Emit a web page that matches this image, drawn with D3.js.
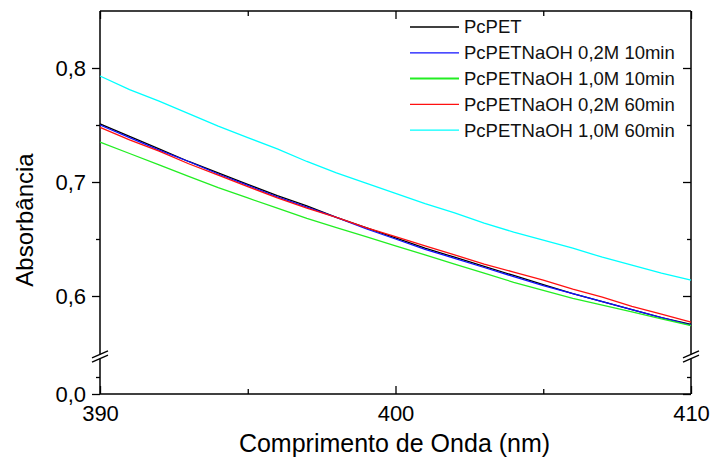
<!DOCTYPE html>
<html>
<head>
<meta charset="utf-8">
<script src="https://cdn.jsdelivr.net/npm/d3@7.9.0/dist/d3.min.js"></script>
<style>
  body { margin: 0; background: #fff; }
  svg { display: block; }
  svg text { font-family: "Liberation Sans", Arial, Helvetica, sans-serif; }
</style>
</head>
<body>
<svg width="712" height="463"></svg>
<script>
// wavelengths (nm)
const wavelength = d3.range(390, 411);

// absorbance, one value per nm
const pcPET       = [0.751, 0.740, 0.729, 0.718, 0.708, 0.698, 0.688, 0.679, 0.669, 0.660, 0.651, 0.642, 0.634, 0.626, 0.618, 0.610, 0.602, 0.595, 0.588, 0.581, 0.575];
const naoh02_10   = [0.750, 0.739, 0.728, 0.718, 0.707, 0.697, 0.687, 0.678, 0.669, 0.659, 0.650, 0.641, 0.633, 0.625, 0.617, 0.609, 0.602, 0.595, 0.588, 0.581, 0.5745];
const naoh10_10   = [0.735, 0.725, 0.715, 0.705, 0.695, 0.686, 0.677, 0.668, 0.660, 0.652, 0.644, 0.636, 0.628, 0.620, 0.612, 0.605, 0.598, 0.592, 0.586, 0.580, 0.574];
const naoh02_60   = [0.748, 0.737, 0.727, 0.716, 0.706, 0.696, 0.686, 0.677, 0.669, 0.660, 0.652, 0.644, 0.636, 0.628, 0.621, 0.614, 0.606, 0.599, 0.591, 0.584, 0.577];
const naoh10_60   = [0.793, 0.781, 0.771, 0.760, 0.749, 0.739, 0.729, 0.718, 0.708, 0.699, 0.690, 0.681, 0.673, 0.664, 0.656, 0.649, 0.642, 0.634, 0.627, 0.620, 0.614];

const seriesNames  = ["PcPET", "PcPETNaOH 0,2M 10min", "PcPETNaOH 1,0M 10min", "PcPETNaOH 0,2M 60min", "PcPETNaOH 1,0M 60min"];
const seriesValues = [pcPET, naoh02_10, naoh10_10, naoh02_60, naoh10_60];
const seriesColors = ["#000000", "#1010ff", "#22ee22", "#ff1010", "#00ffff"];

const yMajor = [0, 0.6, 0.7, 0.8];
const yMinor = [0.05, 0.65, 0.75];
const xMajor = [390, 400, 410];
const xMinor = [395, 405];

const svg = d3.select("svg");
const pLeft = 100, pRight = 691, pTop = 11, pBottom = 394;

const x = d3.scaleLinear().domain([390, 410]).range([pLeft, pRight]);
// broken axis: 0..0.1 at the bottom, 0.55..0.85 above the break
const y = d3.scaleLinear().domain([0, 0.1, 0.55, 0.85]).range([pBottom, 360, 353, pTop]);

const fmt = d3.formatLocale({ decimal: ",", thousands: ".", grouping: [3], currency: ["", ""] }).format(".1f");

// left axis
const gl = svg.append("g").attr("transform", `translate(${pLeft},0)`);
gl.call(d3.axisLeft(y).tickValues(yMajor).tickSize(8).tickPadding(6).tickFormat(fmt));
gl.append("g").call(d3.axisLeft(y).tickValues(yMinor).tickSize(4).tickFormat(""));
// right axis (ticks inward)
const gr = svg.append("g").attr("transform", `translate(${pRight},0)`);
gr.call(d3.axisLeft(y).tickValues(yMajor).tickSize(8).tickFormat(""));
gr.append("g").call(d3.axisLeft(y).tickValues(yMinor).tickSize(4).tickFormat(""));
// bottom axis (ticks inward)
const gb = svg.append("g").attr("transform", `translate(0,${pBottom})`);
gb.call(d3.axisBottom(x).tickValues(xMajor).tickSize(-8).tickPadding(11).tickFormat(d3.format("d")));
gb.append("g").call(d3.axisBottom(x).tickValues(xMinor).tickSize(-5).tickFormat(""));
// top axis (ticks inward)
const gt = svg.append("g").attr("transform", `translate(0,${pTop})`);
gt.call(d3.axisBottom(x).tickValues(xMajor).tickSize(8).tickFormat(""));
gt.append("g").call(d3.axisBottom(x).tickValues(xMinor).tickSize(5).tickFormat(""));

svg.selectAll(".domain").remove();
svg.selectAll("g").attr("font-family", null);
svg.selectAll(".tick line").attr("stroke", "#000").attr("stroke-width", 1.3);
svg.selectAll(".tick text").attr("font-size", 22).attr("fill", "#000");

// frame
const frame = svg.append("g").attr("stroke", "#000").attr("stroke-width", 1.5).attr("fill", "none");
frame.append("line").attr("x1", pLeft).attr("x2", pRight).attr("y1", pTop).attr("y2", pTop);
frame.append("line").attr("x1", pLeft).attr("x2", pRight).attr("y1", pBottom).attr("y2", pBottom);
frame.append("line").attr("x1", pLeft).attr("x2", pLeft).attr("y1", pTop).attr("y2", pBottom);
frame.append("line").attr("x1", pRight).attr("x2", pRight).attr("y1", pTop).attr("y2", pBottom);

// series
const line = d3.line().x((d, i) => x(wavelength[i])).y(d => y(d));
seriesValues.forEach((vals, k) => {
  svg.append("path").datum(vals)
    .attr("d", line)
    .attr("fill", "none")
    .attr("stroke", seriesColors[k])
    .attr("stroke-width", 1.3);
});

// axis break marks
const yb = (y(0.1) + y(0.55)) / 2;
[pLeft, pRight].forEach(xb => {
  svg.append("rect").attr("x", xb - 3).attr("y", yb - 2).attr("width", 6).attr("height", 4).attr("fill", "#fff");
  [-2.2, 2.2].forEach(off => {
    svg.append("line")
      .attr("x1", xb - 8).attr("y1", yb + off + 3.5)
      .attr("x2", xb + 8).attr("y2", yb + off - 3.5)
      .attr("stroke", "#000").attr("stroke-width", 1.3);
  });
});

// legend
const legend = svg.append("g");
seriesNames.forEach((name, k) => {
  const ly = 27 + k * 25.8;
  legend.append("line").attr("x1", 410).attr("x2", 459).attr("y1", ly).attr("y2", ly)
    .attr("stroke", seriesColors[k]).attr("stroke-width", k === 2 ? 2 : 1.3);
  legend.append("text").attr("x", 464).attr("y", ly).attr("dy", "0.35em")
    .attr("font-size", 18.5).attr("fill", "#111").text(name);
});

// axis titles
svg.append("text").attr("x", (pLeft + pRight) / 2 - 1).attr("y", 452)
  .attr("text-anchor", "middle").attr("font-size", 25).text("Comprimento de Onda (nm)");
svg.append("text").attr("transform", "translate(33,220) rotate(-90)")
  .attr("text-anchor", "middle").attr("font-size", 24).text("Absorbância");
</script>
</body>
</html>
